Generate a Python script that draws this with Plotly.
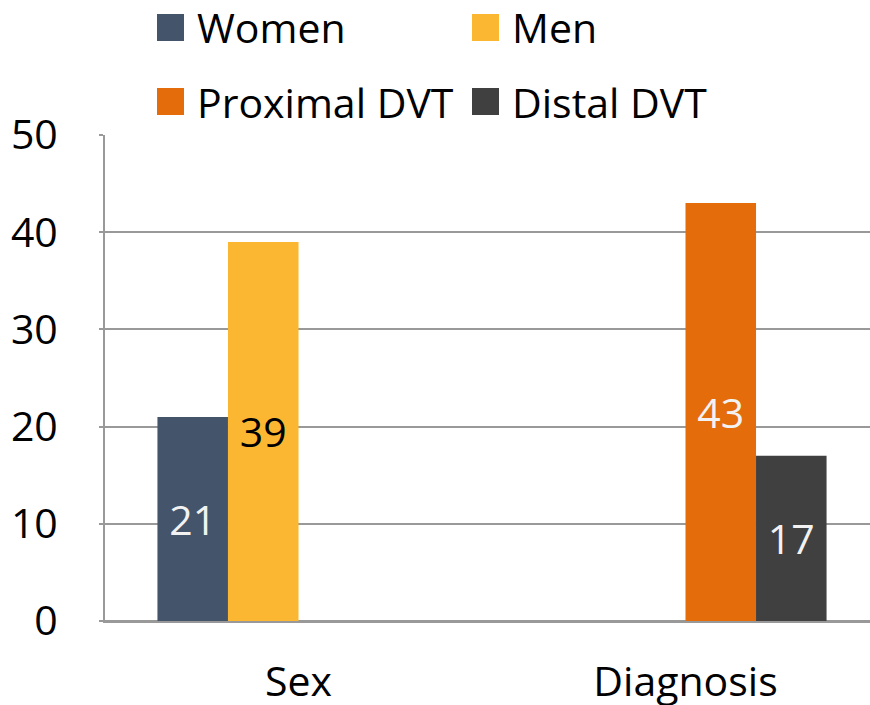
import plotly.graph_objects as go

categories = ["Sex", "Diagnosis"]
series_names = ["Women", "Men", "Proximal DVT", "Distal DVT"]
women = [21, None]
men = [39, None]
proximal = [None, 43]
distal = [None, 17]
series_values = [women, men, proximal, distal]
colors = ["#44546A", "#FBB731", "#E46C0A", "#404040"]
text_colors = ["#F2F2F2", "#000000", "#F2F2F2", "#F2F2F2"]
y_ticks = [0, 10, 20, 30, 40, 50]

W, H = 870, 705
L, R, T, B = 105, 0, 135, 705 - 621
pw, ph = W - L - R, H - T - B
FONT = "Open Sans, Noto Sans, sans-serif"
FS = 41
GRID = "#999999"

fig = go.Figure()
for name, vals, col, tc in zip(series_names, series_values, colors, text_colors):
    fig.add_trace(go.Bar(
        x=categories, y=vals, name=name, marker=dict(color=col, line=dict(width=0)),
        texttemplate="%{y}", textposition="inside", insidetextanchor="middle",
        textfont=dict(family=FONT, size=FS, color=tc), showlegend=False,
        constraintext="none",
    ))

# manual legend (2 rows x 2 columns), positions in screen pixels
def px_x(px):
    return (px - L) / pw

def px_y(py):
    return (H - B - py) / ph

legend_pos = [(157, 27.5), (472, 27.5), (157, 101.5), (472, 101.5)]
for name, col, (sx, sy) in zip(series_names, colors, legend_pos):
    fig.add_shape(type="rect", xref="paper", yref="paper",
                  x0=px_x(sx), x1=px_x(sx + 27), y0=px_y(sy + 13.5), y1=px_y(sy - 13.5),
                  fillcolor=col, line=dict(width=0))
    fig.add_annotation(xref="paper", yref="paper", x=px_x(sx + 38), y=px_y(sy),
                       xanchor="left", yanchor="middle", text=name, showarrow=False,
                       font=dict(family=FONT, size=FS, color="#000000"))

units = pw / 387.0
fig.update_layout(
    width=W, height=H, margin=dict(l=L, r=R, t=T, b=B, autoexpand=False),
    paper_bgcolor="white", plot_bgcolor="white",
    barmode="group", bargap=0.271, bargroupgap=0,
    font=dict(family=FONT, size=FS, color="#000000"),
    xaxis=dict(type="category", range=[-0.5, -0.5 + units], showgrid=False, automargin=False,
               showline=True, linecolor=GRID, linewidth=2, ticks="",
               ticklabelstandoff=24, tickfont=dict(family=FONT, size=FS, color="#000000")),
    yaxis=dict(range=[0, 50], tickvals=y_ticks, showgrid=True, gridcolor=GRID, gridwidth=2,
               automargin=False,
               zeroline=True, zerolinecolor=GRID, zerolinewidth=2,
               showline=True, linecolor=GRID, linewidth=2, ticks="outside", ticklen=4,
               tickcolor=GRID, tickwidth=2, ticklabelstandoff=33,
               tickfont=dict(family=FONT, size=FS, color="#000000")),
)

fig.write_html("out.html", config={"displayModeBar": False},
               post_script="document.body.style.margin='0';document.body.style.overflow='hidden';")
